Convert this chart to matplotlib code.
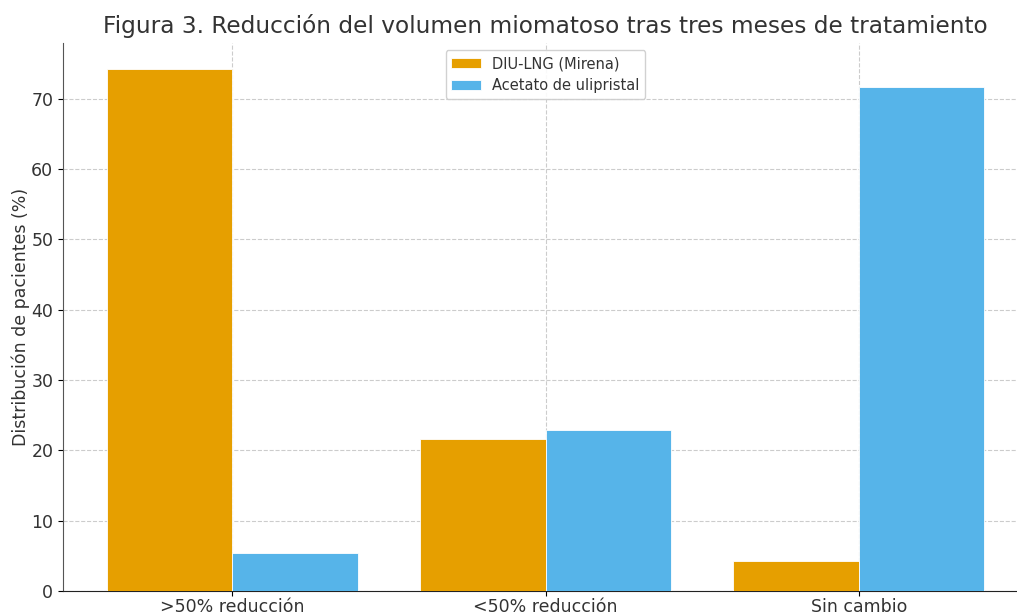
import matplotlib.pyplot as plt
import numpy as np

# Datos
categorias = ['>50% reducción', '<50% reducción', 'Sin cambio']
mirena = [74.2, 21.6, 4.2]
ulipristal = [5.4, 22.9, 71.7]
etiquetas = ['DIU-LNG (Mirena)', 'Acetato de ulipristal']

COLOR_MIRENA = '#E69F00'
COLOR_UPA = '#56B4E9'
TEXT_COLOR = '#333333'

plt.rcParams['font.family'] = 'DejaVu Sans'

fig = plt.figure(figsize=(10.17, 6.13), dpi=100)
ax = fig.add_axes([63 / 1017, 22 / 613, (1028 - 63) / 1017, (591 - 43) / 613])

x = np.arange(len(categorias))
ancho = 0.4
ax.bar(x - ancho / 2, mirena, ancho, color=COLOR_MIRENA, label=etiquetas[0],
       edgecolor='white', linewidth=0.6, zorder=3)
ax.bar(x + ancho / 2, ulipristal, ancho, color=COLOR_UPA, label=etiquetas[1],
       edgecolor='white', linewidth=0.6, zorder=3)

ax.set_xticks(x)
ax.set_xticklabels(categorias, fontsize=12.5, color=TEXT_COLOR)
ax.tick_params(axis='x', pad=1.5)
ax.tick_params(axis='y', labelsize=12.5, labelcolor=TEXT_COLOR)
ax.set_ylabel('Distribución de pacientes (%)', fontsize=12.5, color=TEXT_COLOR, labelpad=1)
ax.set_title('Figura 3. Reducción del volumen miomatoso tras tres meses de tratamiento',
             fontsize=16.75, color=TEXT_COLOR, pad=7)

ax.grid(True, linestyle='--', color='#cccccc', linewidth=0.8, zorder=0)
ax.spines['top'].set_visible(False)
ax.spines['right'].set_visible(False)
ax.spines['left'].set_color('#555555')
ax.spines['bottom'].set_color('#222222')

leg = ax.legend(loc='upper center', fontsize=10.5, framealpha=0.9, edgecolor='#cccccc')
for t in leg.get_texts():
    t.set_color(TEXT_COLOR)

plt.savefig('out.png', dpi=100)
